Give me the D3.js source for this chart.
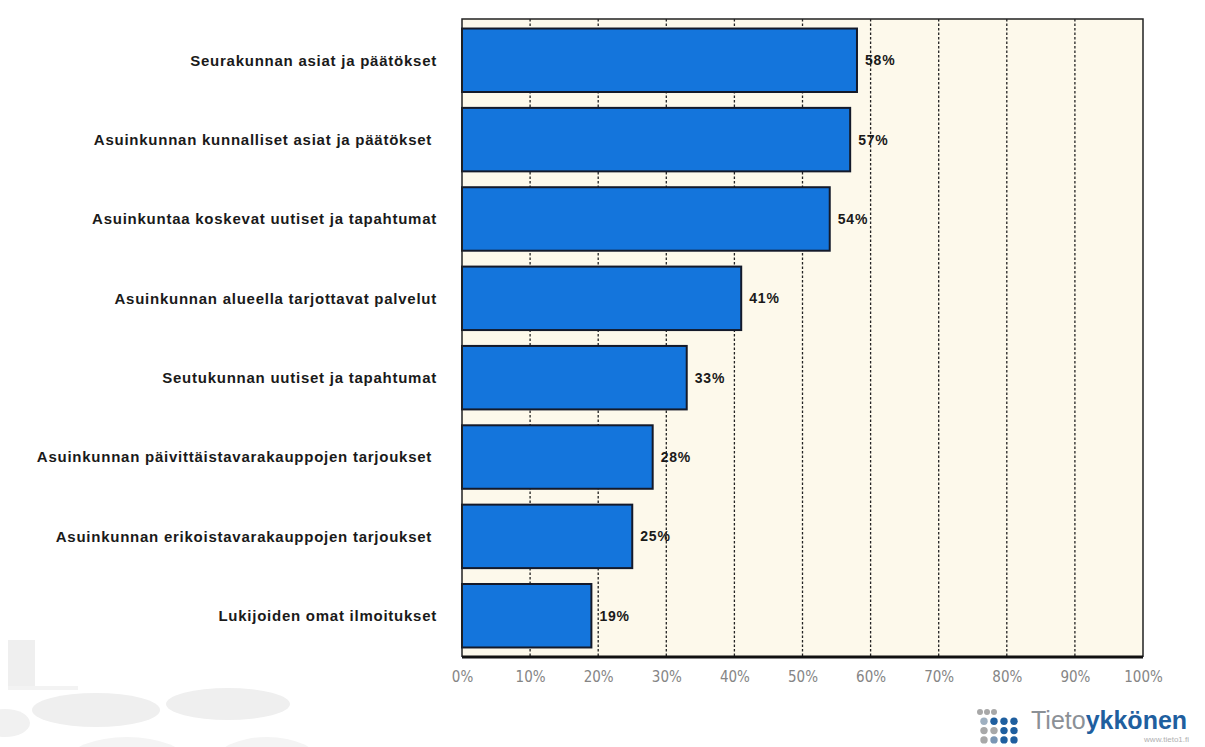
<!DOCTYPE html>
<html>
<head>
<meta charset="utf-8">
<script src="https://cdn.jsdelivr.net/npm/d3@7"></script>
<style>
  body { margin: 0; background: #fff; }
  svg { display: block; }
</style>
</head>
<body>
<div id="chart"></div>
<script>
const categories = [
  "Seurakunnan asiat ja päätökset",
  "Asuinkunnan kunnalliset asiat ja päätökset ",
  "Asuinkuntaa koskevat uutiset ja tapahtumat",
  "Asuinkunnan alueella tarjottavat palvelut",
  "Seutukunnan uutiset ja tapahtumat",
  "Asuinkunnan päivittäistavarakauppojen tarjoukset ",
  "Asuinkunnan erikoistavarakauppojen tarjoukset ",
  "Lukijoiden omat ilmoitukset"
]
const values = [58, 57, 54, 41, 33, 28, 25, 19]
const tickValues = [0, 10, 20, 30, 40, 50, 60, 70, 80, 90, 100]

const width = 1205
const height = 747
const marginTop = 19
const marginLeft = 462
const plotRight = 1143
const plotBottom = 657

const svg = d3.select("#chart")
  .append("svg")
  .attr("width", width)
  .attr("height", height)
  .attr("viewBox", [0, 0, width, height])

// faded decoration bottom left
const deco = svg.append("g").attr("fill", "#efefef")
deco.append("rect").attr("x", 8).attr("y", 640).attr("width", 27).attr("height", 50)
deco.append("rect").attr("x", 8).attr("y", 686).attr("width", 70).attr("height", 4).attr("fill", "#f3f3f3")
deco.append("ellipse").attr("cx", 96).attr("cy", 710).attr("rx", 64).attr("ry", 17)
deco.append("ellipse").attr("cx", 228).attr("cy", 704).attr("rx", 62).attr("ry", 16)
deco.append("ellipse").attr("cx", 5).attr("cy", 723).attr("rx", 25).attr("ry", 14).attr("fill", "#f1f1f1")
deco.append("ellipse").attr("cx", 127).attr("cy", 762).attr("rx", 60).attr("ry", 25).attr("fill", "#f4f4f4")
deco.append("ellipse").attr("cx", 267).attr("cy", 762).attr("rx", 52).attr("ry", 25).attr("fill", "#f4f4f4")

const x = d3.scaleLinear()
  .domain([0, 100])
  .range([marginLeft, plotRight])

const y = d3.scaleBand()
  .domain(categories)
  .range([marginTop, plotBottom])
  .paddingInner(0.2)
  .paddingOuter(0.12)

// plot background
svg.append("rect")
  .attr("x", marginLeft)
  .attr("y", marginTop)
  .attr("width", plotRight - marginLeft)
  .attr("height", plotBottom - marginTop)
  .attr("fill", "#fdf9eb")

// gridlines
svg.append("g")
  .selectAll("line")
  .data(tickValues.slice(1, -1))
  .join("line")
  .attr("x1", d => x(d))
  .attr("x2", d => x(d))
  .attr("y1", marginTop)
  .attr("y2", plotBottom)
  .attr("stroke", "#222")
  .attr("stroke-width", 1.3)
  .attr("stroke-dasharray", "2.5,2")

// bars
svg.append("g")
  .selectAll("rect")
  .data(values)
  .join("rect")
  .attr("x", x(0))
  .attr("y", (d, i) => y(categories[i]))
  .attr("width", d => x(d) - x(0))
  .attr("height", y.bandwidth())
  .attr("fill", "#1475dc")
  .attr("stroke", "#141a2a")
  .attr("stroke-width", 2)

// value labels
svg.append("g")
  .selectAll("text")
  .data(values)
  .join("text")
  .attr("x", d => x(d) + 8)
  .attr("y", (d, i) => y(categories[i]) + y.bandwidth() / 2)
  .attr("dy", "0.35em")
  .attr("font-family", "Liberation Sans, Arial, sans-serif")
  .attr("font-size", 14)
  .attr("font-weight", "bold")
  .attr("letter-spacing", 0.8)
  .attr("fill", "#1a1a1a")
  .text(d => d + "%")

// category labels
svg.append("g")
  .selectAll("text")
  .data(categories)
  .join("text")
  .attr("x", 437)
  .attr("y", d => y(d) + y.bandwidth() / 2)
  .attr("dy", "0.35em")
  .attr("text-anchor", "end")
  .attr("xml:space", "preserve")
  .attr("font-family", "Liberation Sans, Arial, sans-serif")
  .attr("font-size", 15)
  .attr("font-weight", "bold")
  .attr("letter-spacing", 0.75)
  .attr("fill", "#1a1a1a")
  .text(d => d)

// frame
svg.append("path")
  .attr("d", `M${marginLeft},${plotBottom}V${marginTop}H${plotRight}V${plotBottom}`)
  .attr("fill", "none")
  .attr("stroke", "#222")
  .attr("stroke-width", 1.5)
svg.append("line")
  .attr("x1", marginLeft)
  .attr("x2", plotRight)
  .attr("y1", plotBottom)
  .attr("y2", plotBottom)
  .attr("stroke", "#111")
  .attr("stroke-width", 3)

// x axis
const xAxis = svg.append("g")
  .attr("transform", `translate(0,${plotBottom + 11})`)
  .call(d3.axisBottom(x).tickValues(tickValues).tickSize(0).tickFormat(d => d + "%"))
xAxis.select(".domain").remove()
xAxis.selectAll("text")
  .attr("font-family", "DejaVu Sans Condensed, DejaVu Sans, sans-serif")
  .attr("font-size", 15)
  .attr("fill", "#858585")

// logo
const logo = svg.append("g").attr("transform", "translate(980,712)")
const dotRows = [
  ["#a8a8a8", "#a8a8a8", "#a8a8a8", null],
  ["#9fb0c0", "#1f5f9f", "#1f5f9f", "#1f5f9f"],
  ["#a8a8a8", "#a8a8a8", "#1f5f9f", "#1f5f9f"],
  ["#a8a8a8", "#7a96b4", "#1f5f9f", "#1f5f9f"]
]
dotRows.forEach((row, r) => {
  row.forEach((c, i) => {
    if (!c) return
    logo.append("circle")
      .attr("cx", r === 0 ? i * 7 : 4 + i * 10)
      .attr("cy", r * 9.3)
      .attr("r", r === 0 ? 3 : 3.7)
      .attr("fill", c)
  })
})
const logoText = logo.append("text")
  .attr("x", 51)
  .attr("y", 17)
  .attr("font-family", "Liberation Sans, Arial, sans-serif")
  .attr("font-size", 25)
logoText.append("tspan").attr("fill", "#8b9096").text("Tieto")
logoText.append("tspan").attr("fill", "#1f5f9f").attr("font-weight", "bold").text("ykkönen")
logo.append("text")
  .attr("x", 209)
  .attr("y", 30)
  .attr("text-anchor", "end")
  .attr("font-family", "Liberation Sans, Arial, sans-serif")
  .attr("font-size", 8)
  .attr("fill", "#b0b0b0")
  .text("www.tieto1.fi")
</script>
</body>
</html>
